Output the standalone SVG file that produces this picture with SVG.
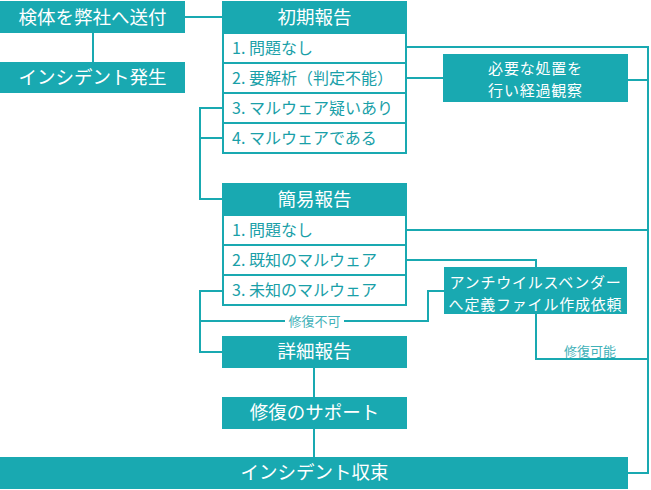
<svg xmlns="http://www.w3.org/2000/svg" width="651" height="490" viewBox="0 0 651 490">
<style>
.hd{fill:#19a9b1}
.row{fill:#fff;stroke:#19a9b1;stroke-width:2}
.ht{font-family:"Noto Sans CJK JP","Noto Sans",sans-serif;font-size:18.5px;fill:#fff;text-anchor:middle}
.bt{font-family:"Noto Sans CJK JP","Noto Sans",sans-serif;font-size:15px;letter-spacing:0.8px;fill:#fff;text-anchor:middle}
.rt{font-family:"Noto Sans CJK JP","Noto Sans",sans-serif;font-size:16px;fill:#19a0a8}
.lt{font-family:"Noto Sans CJK JP","Noto Sans",sans-serif;font-size:13px;fill:#3fb1b8;text-anchor:middle}
.cn{fill:none;stroke:#19a9b1;stroke-width:2}
</style>
<rect width="651" height="490" fill="#fff"/>
<g id="connectors">
<path class="cn" d="M185,17H222"/>
<path class="cn" d="M93,33V62"/>
<path class="cn" d="M407,47H648V473H628"/>
<path class="cn" d="M407,78H443"/>
<path class="cn" d="M628,80H648"/>
<path class="cn" d="M222,108H200V199H222"/>
<path class="cn" d="M200,138H222"/>
<path class="cn" d="M407,230H648"/>
<path class="cn" d="M407,260H536V267"/>
<path class="cn" d="M536,314V359H648"/>
<path class="cn" d="M222,291H200V352H222"/>
<path class="cn" d="M200,321H428V291H444"/>
<path class="cn" d="M314,368V397"/>
<path class="cn" d="M314,429V457"/>
<rect x="285" y="313" width="59" height="16" fill="#fff"/>
<text class="lt" x="314.5" y="325.5">修復不可</text>
<text class="lt" x="590" y="355.5">修復可能</text>
</g>
<g id="send">
<rect class="hd" x="0" y="1" width="185" height="32"/>
<text class="ht" x="92.5" y="23.5">検体を弊社へ送付</text>
</g>
<g id="incident-start">
<rect class="hd" x="0" y="62" width="185" height="31"/>
<text class="ht" x="92.5" y="84">インシデント発生</text>
</g>
<g id="initial-report">
<rect class="hd" x="222" y="1" width="185" height="32"/>
<text class="ht" x="314.5" y="23.5">初期報告</text>
<rect class="row" x="223" y="33" width="183" height="30"/>
<text class="rt" x="232" y="53.5">1. 問題なし</text>
<rect class="row" x="223" y="63" width="183" height="30"/>
<text class="rt" x="232" y="83.5">2. 要解析（判定不能）</text>
<rect class="row" x="223" y="93" width="183" height="30"/>
<text class="rt" x="232" y="113.5">3. マルウェア疑いあり</text>
<rect class="row" x="223" y="123" width="183" height="30"/>
<text class="rt" x="232" y="143.5">4. マルウェアである</text>
</g>
<g id="observe">
<rect class="hd" x="443" y="54" width="185" height="48"/>
<text class="bt"><tspan x="535.5" y="74">必要な処置を</tspan><tspan x="535.5" y="96">行い経過観察</tspan></text>
</g>
<g id="simple-report">
<rect class="hd" x="222" y="183" width="185" height="32"/>
<text class="ht" x="314.5" y="205.5">簡易報告</text>
<rect class="row" x="223" y="215" width="183" height="30"/>
<text class="rt" x="232" y="235.5">1. 問題なし</text>
<rect class="row" x="223" y="245" width="183" height="30"/>
<text class="rt" x="232" y="265.5">2. 既知のマルウェア</text>
<rect class="row" x="223" y="275" width="183" height="30"/>
<text class="rt" x="232" y="295.5">3. 未知のマルウェア</text>
</g>
<g id="av-vendor">
<rect class="hd" x="444" y="267" width="183" height="47"/>
<text class="bt"><tspan x="535.5" y="288">アンチウイルスベンダー</tspan><tspan x="535.5" y="310">へ定義ファイル作成依頼</tspan></text>
</g>
<g id="detail-report">
<rect class="hd" x="222" y="336" width="185" height="32"/>
<text class="ht" x="314.5" y="358">詳細報告</text>
</g>
<g id="support">
<rect class="hd" x="222" y="397" width="185" height="32"/>
<text class="ht" x="314.5" y="419">修復のサポート</text>
</g>
<g id="incident-end">
<rect class="hd" x="0" y="457" width="628" height="32"/>
<text class="ht" x="314.5" y="479">インシデント収束</text>
</g>
</svg>
